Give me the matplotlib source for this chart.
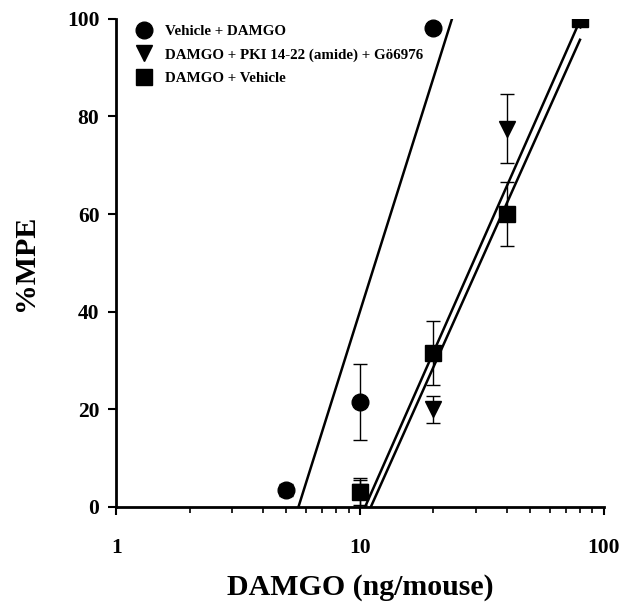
import matplotlib
matplotlib.use("Agg")
import matplotlib.pyplot as plt
import numpy as np

plt.rcParams["font.family"] = ["Liberation Serif", "DejaVu Serif"]
plt.rcParams["font.weight"] = "bold"

# dose-response data (ng/mouse, %MPE)
veh_x = [5, 10, 20]
veh_y = [3.5, 21.5, 98.2]
veh_err = [1.2, 7.8, 0.0]

pki_x = [10, 20, 40, 80]
pki_y = [3.0, 20.0, 77.5, 99.7]
pki_err = [2.5, 2.8, 7.0, 0.0]

sq_x = [10, 20, 40, 80]
sq_y = [3.0, 31.5, 60.0, 100.0]
sq_err = [3.0, 6.5, 6.5, 0.0]

# fitted regression lines: (x start, x end, intercept, slope vs log10 dose)
veh_fit = (5.6, 23.9, -118.7, 158.7)
pki_fit = (10.4, 80.0, -115.4, 113.0)
sq_fit = (10.8, 80.0, -116.5, 111.5)

labels = ["Vehicle + DAMGO", "DAMGO + PKI 14-22 (amide) + Gö6976", "DAMGO + Vehicle"]


def fit_line(ax, fit):
    x0, x1, a, b = fit
    xs = np.array([x0, x1])
    ax.plot(xs, a + b * np.log10(xs), color="black", lw=1.8, zorder=2)


fig = plt.figure(figsize=(6.21, 6.05), dpi=100)
ax = fig.add_axes([0.187, 0.162, 0.785, 0.807])

fit_line(ax, veh_fit)
fit_line(ax, pki_fit)
fit_line(ax, sq_fit)

common = dict(color="black", ecolor="black", elinewidth=1.0, capsize=5,
              capthick=1.0, linestyle="none", zorder=3)
ax.errorbar(veh_x, veh_y, yerr=veh_err, marker="o", markersize=12, label=labels[0], **common)
ax.errorbar(pki_x, pki_y, yerr=pki_err, marker="v", markersize=12, label=labels[1], **common)
ax.errorbar(sq_x, sq_y, yerr=sq_err, marker="s", markersize=11, label=labels[2], **common)

ax.set_xscale("log")
ax.set_xlim(1, 100)
ax.set_ylim(0, 100)
ax.set_yticks([0, 20, 40, 60, 80, 100])
ax.set_xticks([1, 10, 100])
ax.set_xticklabels(["1", "10", "100"])

for s in ["top", "right"]:
    ax.spines[s].set_visible(False)
for s in ["left", "bottom"]:
    ax.spines[s].set_linewidth(2)

ax.tick_params(axis="both", which="major", length=6, width=1.5, labelsize=15.5, pad=6)
ax.tick_params(axis="x", which="minor", length=4, width=1.2)
ax.tick_params(axis="x", which="major", pad=16)
for lab in ax.get_xticklabels() + ax.get_yticklabels():
    lab.set_fontweight("bold")

ax.set_xlabel("DAMGO (ng/mouse)", fontsize=21.5, fontweight="bold", labelpad=12)
ax.set_ylabel("%MPE", fontsize=21.5, fontweight="bold", labelpad=20)

handles, labs = ax.get_legend_handles_labels()
handles = [h[0] for h in handles]
leg = ax.legend(handles, labs, loc="upper left", frameon=False, fontsize=10.8,
                borderaxespad=0.0, handletextpad=0.6, labelspacing=0.65,
                handlelength=1.6, bbox_to_anchor=(0.02, 1.0))
for t in leg.get_texts():
    t.set_fontweight("bold")

plt.savefig("out.png", dpi=100)
plt.close()
